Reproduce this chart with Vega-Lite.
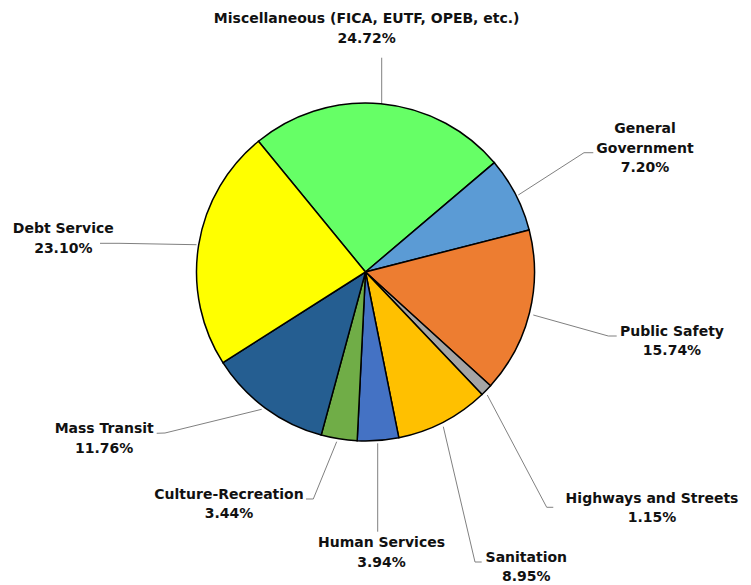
{
  "$schema": "https://vega.github.io/schema/vega-lite/v6.json",
  "width": 751,
  "height": 585,
  "autosize": {"type": "none"},
  "padding": 0,
  "background": "white",
  "config": {"view": {"stroke": null}},
  "datasets": {
    "slices": [
      {"i": 1, "category": "Miscellaneous (FICA, EUTF, OPEB, etc.)", "pct": 24.72},
      {"i": 2, "category": "General Government", "pct": 7.20},
      {"i": 3, "category": "Public Safety", "pct": 15.74},
      {"i": 4, "category": "Highways and Streets", "pct": 1.15},
      {"i": 5, "category": "Sanitation", "pct": 8.95},
      {"i": 6, "category": "Human Services", "pct": 3.94},
      {"i": 7, "category": "Culture-Recreation", "pct": 3.44},
      {"i": 8, "category": "Mass Transit", "pct": 11.76},
      {"i": 9, "category": "Debt Service", "pct": 23.10}
    ],
    "labels": [
      {"category": "Miscellaneous (FICA, EUTF, OPEB, etc.)", "label": "Miscellaneous (FICA, EUTF, OPEB, etc.)\n24.72%", "lx": 0.007, "ly": 1.4716},
      {"category": "General Government", "label": "General\nGovernment\n7.20%", "lx": 1.6538, "ly": 0.8207},
      {"category": "Public Safety", "label": "Public Safety\n15.74%", "lx": 1.8136, "ly": -0.3787},
      {"category": "Highways and Streets", "label": "Highways and Streets\n1.15%", "lx": 1.6953, "ly": -1.3651},
      {"category": "Sanitation", "label": "Sanitation\n8.95%", "lx": 0.9515, "ly": -1.7160},
      {"category": "Human Services", "label": "Human Services\n3.94%", "lx": 0.0947, "ly": -1.629},
      {"category": "Culture-Recreation", "label": "Culture-Recreation\n3.44%", "lx": -0.8077, "ly": -1.3432},
      {"category": "Mass Transit", "label": "Mass Transit\n11.76%", "lx": -1.5462, "ly": -0.9544},
      {"category": "Debt Service", "label": "Debt Service\n23.10%", "lx": -1.7882, "ly": 0.229}
    ],
    "leaders": [
      {"category": "Misc", "seq": 1, "lx": 0.0959, "ly": 1.268},
      {"category": "Misc", "seq": 2, "lx": 0.0959, "ly": 0.9941},
      {"category": "GG", "seq": 1, "lx": 1.3479, "ly": 0.7059},
      {"category": "GG", "seq": 2, "lx": 1.2929, "ly": 0.7059},
      {"category": "GG", "seq": 3, "lx": 0.9041, "ly": 0.4556},
      {"category": "Debt", "seq": 1, "lx": -1.571, "ly": 0.1698},
      {"category": "Debt", "seq": 2, "lx": -1.4586, "ly": 0.1698},
      {"category": "Debt", "seq": 3, "lx": -1.0, "ly": 0.1615},
      {"category": "PS", "seq": 1, "lx": 1.4864, "ly": -0.3787},
      {"category": "PS", "seq": 2, "lx": 1.4367, "ly": -0.3787},
      {"category": "PS", "seq": 3, "lx": 0.9929, "ly": -0.2544},
      {"category": "HW", "seq": 1, "lx": 1.1112, "ly": -1.3923},
      {"category": "HW", "seq": 2, "lx": 1.0722, "ly": -1.3923},
      {"category": "HW", "seq": 3, "lx": 0.7207, "ly": -0.7278},
      {"category": "San", "seq": 1, "lx": 0.6876, "ly": -1.7160},
      {"category": "San", "seq": 2, "lx": 0.6479, "ly": -1.7160},
      {"category": "San", "seq": 3, "lx": 0.4604, "ly": -0.9154},
      {"category": "HS", "seq": 1, "lx": 0.0722, "ly": -1.0136},
      {"category": "HS", "seq": 2, "lx": 0.0722, "ly": -1.5367},
      {"category": "CR", "seq": 1, "lx": -0.3521, "ly": -1.3432},
      {"category": "CR", "seq": 2, "lx": -0.3089, "ly": -1.3432},
      {"category": "CR", "seq": 3, "lx": -0.1704, "ly": -1.0041},
      {"category": "MT", "seq": 1, "lx": -1.2355, "ly": -0.9544},
      {"category": "MT", "seq": 2, "lx": -1.1864, "ly": -0.9527},
      {"category": "MT", "seq": 3, "lx": -0.6142, "ly": -0.8124}
    ]
  },
  "layer": [
    {
      "data": {"name": "leaders"},
      "mark": {"type": "line", "color": "#808080", "strokeWidth": 1},
      "encoding": {
        "x": {"field": "lx", "type": "quantitative", "scale": {"domain": [-2.1627, 2.2811], "nice": false, "zero": false}, "axis": null},
        "y": {"field": "ly", "type": "quantitative", "scale": {"domain": [-1.8521, 1.6095], "nice": false, "zero": false}, "axis": null},
        "detail": {"field": "category"},
        "order": {"field": "seq"}
      }
    },
    {
      "data": {"name": "slices"},
      "mark": {"type": "arc", "outerRadius": 169, "innerRadius": 0, "stroke": "black", "strokeWidth": 1.5},
      "encoding": {
        "x": {"datum": 0, "type": "quantitative", "scale": {"domain": [-2.1627, 2.2811], "nice": false, "zero": false}, "axis": null},
        "y": {"datum": 0, "type": "quantitative", "scale": {"domain": [-1.8521, 1.6095], "nice": false, "zero": false}, "axis": null},
        "theta": {"field": "pct", "type": "quantitative", "stack": true, "scale": {"range": [-0.6859, 5.5973]}},
        "order": {"field": "i"},
        "color": {
          "field": "category", "type": "nominal", "legend": null,
          "scale": {
            "domain": ["Miscellaneous (FICA, EUTF, OPEB, etc.)", "General Government", "Public Safety", "Highways and Streets", "Sanitation", "Human Services", "Culture-Recreation", "Mass Transit", "Debt Service"],
            "range": ["#66FF66", "#5B9BD5", "#ED7D31", "#A5A5A5", "#FFC000", "#4472C4", "#70AD47", "#255E91", "#FFFF00"]
          }
        }
      }
    },
    {
      "data": {"name": "labels"},
      "mark": {"type": "text", "font": "DejaVu Sans", "fontWeight": "bold", "fontSize": 14, "lineHeight": 19.5, "align": "center", "baseline": "alphabetic", "lineBreak": "\n", "color": "#111111"},
      "encoding": {
        "x": {"field": "lx", "type": "quantitative", "scale": {"domain": [-2.1627, 2.2811], "nice": false, "zero": false}, "axis": null},
        "y": {"field": "ly", "type": "quantitative", "scale": {"domain": [-1.8521, 1.6095], "nice": false, "zero": false}, "axis": null},
        "text": {"field": "label"}
      }
    }
  ]
}
